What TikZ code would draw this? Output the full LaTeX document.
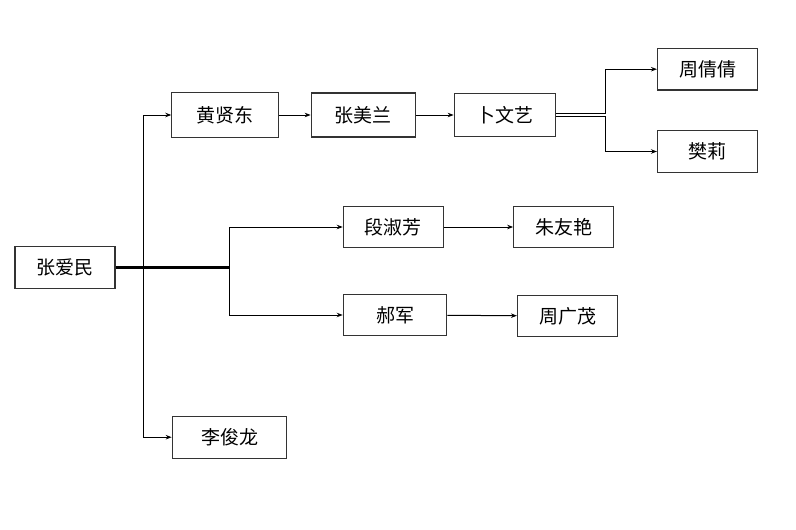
\documentclass[tikz,border=0pt]{standalone}
\usepackage{fontspec}
\setmainfont{Noto Sans CJK SC}
\usetikzlibrary{arrows.meta}

\tikzset{
    person/.style={draw=black!80, line width=1.1pt, fill=white, inner sep=0pt,
        minimum width=100pt, minimum height=41.5pt, font=\fontsize{19}{19}\selectfont},
    link/.style={line width=1pt},
}

\begin{document}
\begin{tikzpicture}[>={Stealth[length=6pt,width=4.5pt]}, x=1pt, y=-1pt]

    \useasboundingbox (0,0) rectangle (796,530);

    \node[person] (zam) at (65,267.5) {张爱民};
    \node[person, minimum width=107pt, minimum height=44.5pt] (hxd) at (225.3,115) {黄贤东};
    \node[person, minimum width=104pt, minimum height=44pt] (zml) at (363.2,115) {张美兰};
    \node[person, minimum width=101pt, minimum height=42.5pt] (bwy) at (504.7,115) {卜文艺};
    \node[person] (zqq) at (707.5,69.2) {周倩倩};
    \node[person] (fl) at (707.5,151.5) {樊莉};
    \node[person] (dsf) at (393.3,227) {段淑芳};
    \node[person] (zyy) at (563.7,227) {朱友艳};
    \node[person, minimum width=103.5pt] (hj) at (395,315) {郝军};
    \node[person] (zgm) at (567.5,316) {周广茂};
    \node[person, minimum width=114.5pt, minimum height=42.3pt] (ljl) at (229.5,437.2) {李俊龙};

    \coordinate (s1) at (143.5,267.5);
    \coordinate (s2) at (229,267.5);
    \coordinate (s3) at (605.7,115);

    % main line from the root
    \draw[line width=2.2pt] (zam.east) -- (s2);

    \draw[link, ->] (s1) |- (hxd);
    \draw[link, ->] (s1) |- (ljl);
    \draw[link, ->] (s2) |- (dsf);
    \draw[link, ->] (s2) |- (hj);

    \draw[link, ->] (hxd) -- (zml);
    \draw[link, ->] (zml) -- (bwy);
    \draw[link, ->] (dsf) -- (zyy);
    \draw[link, ->] (hj) -- (zgm);

    % double line out of bwy
    \draw[link] ([yshift=1.2pt]bwy.east) -- ([yshift=1.2pt]s3);
    \draw[link] ([yshift=-1.2pt]bwy.east) -- ([yshift=-1.2pt]s3);
    \draw[link, ->] ([yshift=1.2pt]s3) |- (zqq);
    \draw[link, ->] ([yshift=-1.2pt]s3) |- (fl);

\end{tikzpicture}
\end{document}
